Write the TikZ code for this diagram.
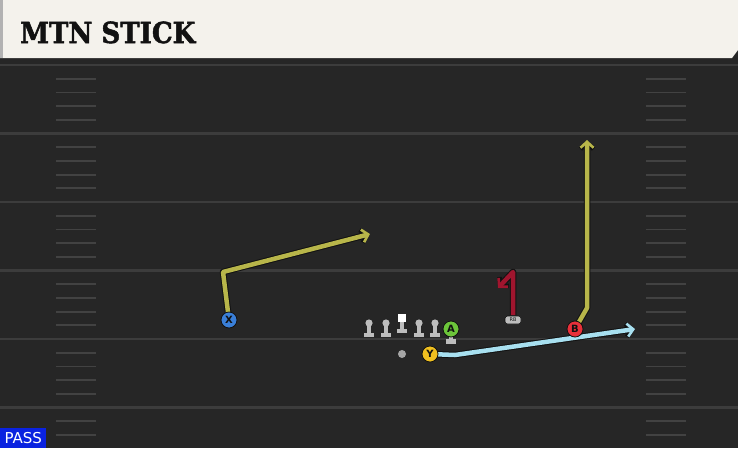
\documentclass[tikz,border=0pt]{standalone}
\usepackage{fontspec}
\setmainfont{DejaVu Serif}
\setsansfont{DejaVu Sans}
\newfontfamily\titlefont{DejaVu Serif}[BoldFeatures={FakeBold=1.8}]
\usetikzlibrary{arrows.meta}
\definecolor{bg}{HTML}{262626}
\definecolor{yardc}{HTML}{3C3C3C}
\definecolor{hashc}{HTML}{424242}
\definecolor{banner}{HTML}{F4F2EC}
\definecolor{routey}{HTML}{B8B64A}
\definecolor{routeb}{HTML}{A8E0F0}
\definecolor{router}{HTML}{A0152E}
\definecolor{pblue}{HTML}{3A7FD8}
\definecolor{pgreen}{HTML}{6CC53A}
\definecolor{pyellow}{HTML}{F0C020}
\definecolor{pred}{HTML}{E8303A}
\definecolor{linec}{HTML}{BDBDBD}
\definecolor{passblue}{HTML}{0A22E0}
\definecolor{outl}{HTML}{111111}
\tikzset{
  player/.style={circle, draw=outl, line width=0.8pt, minimum size=16pt, inner sep=0pt,
    font=\sffamily\bfseries\fontsize{10}{10}\selectfont, text=outl},
  outline/.style={draw=outl, line width=6.5pt, line join=round,
    -{Straight Barb[length=6pt,width=13pt,line width=4.5pt]}},
  routestroke/.style={line width=4.5pt, line join=round,
    -{Straight Barb[length=6pt,width=13pt,line width=2.6pt]}},
  yardline/.style={yardc, line width=2.4pt},
  hashmark/.style={hashc, line width=1.8pt},
}
\newcommand{\lineman}[2]{%
  \fill[linec] (#1-1.8,#2-9) rectangle (#1+1.8,#2);
  \fill[linec] (#1,#2-10) circle (3.6);
  \fill[linec] (#1-5,#2) rectangle (#1+5,#2+4);
}
\begin{document}
\begin{tikzpicture}[x=1pt,y=-1pt]
\useasboundingbox (0,0) rectangle (738,448);
\fill[bg] (0,0) rectangle (738,448);
% yard lines and hashes
\foreach \k in {0,...,5}{
  \pgfmathsetmacro{\yy}{65+68.5*\k}
  \draw[yardline] (0,\yy) -- (738,\yy);
  \foreach \j in {1,...,4}{
    \pgfmathsetmacro{\hy}{\yy+13.7*\j}
    \ifdim\hy pt<446pt
      \draw[hashmark] (56,\hy) -- (96,\hy);
      \draw[hashmark] (646,\hy) -- (686,\hy);
    \fi
  }
}
% banner
\fill[black!85] (0,56) rectangle (738,64);
\fill[banner] (0,0) -- (738,0) -- (738,50) -- (732,58) -- (0,58) -- cycle;
\fill[black!30] (0,0) rectangle (3,58);
\node[anchor=base west, inner sep=0pt, text=outl] (title) at (20,43)
  {\scalebox{0.9}[1]{\titlefont\fontsize{29}{29}\selectfont\bfseries MTN STICK}};
% PASS tag
\node[fill=passblue, text=white, anchor=south west, inner sep=0pt, minimum width=46pt,
  minimum height=20pt, font=\sffamily\fontsize{15}{15}\selectfont] (pass) at (0,448) {PASS};
% offensive line
\lineman{369}{333}
\lineman{386}{333}
\fill[linec] (400.2,321) rectangle (403.8,329);
\fill[linec] (397,329) rectangle (407,333);
\fill[white] (398,314) rectangle (406,322);
\lineman{419}{333}
\lineman{435}{333}
% A stance
\fill[linec] (449.2,333) rectangle (452.8,340);
\fill[linec] (446,339) rectangle (456,344);
% QB dot
\fill[gray!70] (402,354) circle (4) node (qb) {};
% RB
\node[fill=linec, draw=outl, line width=0.6pt, rounded corners=2.5pt, minimum width=16pt,
  minimum height=8pt, inner sep=0pt, font=\sffamily\fontsize{5}{5}\selectfont, text=outl]
  (rb) at (513,320) {RB};
% route waypoints
\coordinate (x1) at (223,272);
\coordinate (x2) at (370,234);
\coordinate (b1) at (587,308);
\coordinate (b2) at (587,140);
\coordinate (y1) at (455,355);
\coordinate (y2) at (635,329);
\coordinate (r0) at (513,315);
\coordinate (r1) at (513,272);
\coordinate (r2) at (498,288);
% player positions
\coordinate (xp) at (229,320);
\coordinate (bp) at (575,329);
\coordinate (yp) at (430,354);
% routes (outline then colour)
\draw[outline] (xp) -- (x1) -- (x2);
\draw[routestroke, routey] (xp) -- (x1) -- (x2);
\draw[outline] (bp) -- (b1) -- (b2);
\draw[routestroke, routey] (bp) -- (b1) -- (b2);
\draw[outline] (yp) -- (y1) -- (y2);
\draw[routestroke, routeb] (yp) -- (y1) -- (y2);
\draw[outline] (r0) -- (r1) -- (r2);
\draw[routestroke, router] (r0) -- (r1) -- (r2);
% players
\node[player, fill=pblue] (X) at (xp) {X};
\node[player, fill=pgreen] (A) at (451,329) {A};
\node[player, fill=pyellow] (Y) at (yp) {Y};
\node[player, fill=pred] (B) at (bp) {B};
\end{tikzpicture}
\end{document}
